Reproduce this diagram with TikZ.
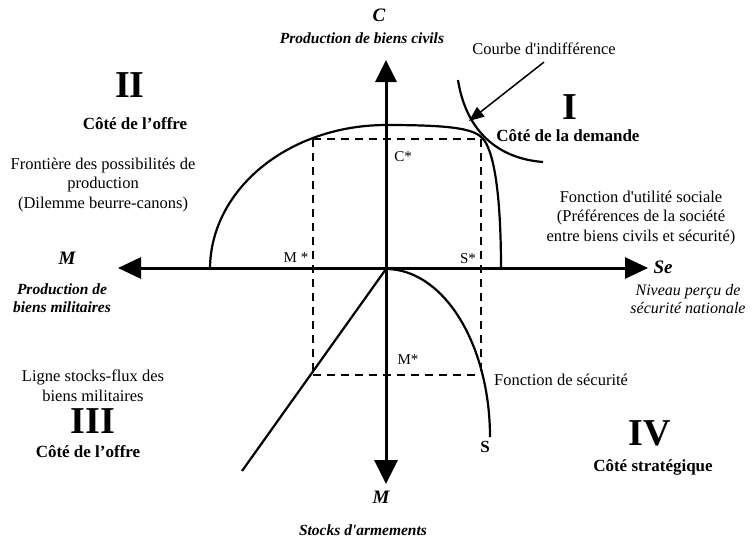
\documentclass[tikz,border=0pt]{standalone}
\usepackage{fontspec}
\setmainfont{Liberation Serif}
\usetikzlibrary{arrows.meta}
\tikzset{
  axisline/.style={line width=3pt,{Triangle[length=23pt,width=21pt]}-{Triangle[length=23pt,width=21pt]}},
  vaxis/.style={line width=3pt,{Triangle[length=22pt,width=21pt]}-{Triangle[length=24pt,width=23pt]}},
  curveline/.style={line width=2.2pt},
  dashline/.style={line width=1.6pt,dash pattern=on 8pt off 6pt},
  reg/.style={font=\fontsize{16.5}{19.5}\selectfont,align=center,inner sep=0pt},
  bld/.style={font=\fontsize{17}{20}\selectfont\bfseries,align=center,inner sep=0pt},
  itl/.style={font=\fontsize{15.5}{18.5}\selectfont\bfseries\itshape,align=center,inner sep=0pt},
  itm/.style={font=\fontsize{16}{18.5}\selectfont\itshape,align=center,inner sep=0pt},
  axlab/.style={font=\fontsize{19}{22}\selectfont\bfseries\itshape,inner sep=0pt},
  roman/.style={font=\fontsize{38}{40}\selectfont\bfseries,inner sep=0pt},
  star/.style={font=\fontsize{15}{17}\selectfont,inner sep=0pt}
}
\begin{document}
\begin{tikzpicture}[x=1pt,y=-1pt]
\useasboundingbox (0,0) rectangle (752,542);
\fill[white] (0,0) rectangle (752,542);
% key points
\coordinate (O) at (386,269);
\coordinate (Ctop) at (386,60);
\coordinate (Mbot) at (386,484);
\coordinate (Mleft) at (118,268);
\coordinate (Seright) at (648,268);
% axes
\draw[axisline] (Mleft) -- (Seright);
\draw[vaxis] (Ctop) -- (Mbot);
% production possibility frontier, quadrant II
\draw[curveline] plot[domain=180:90,samples=60] ({386+176*cos(\x)},{269-144*sin(\x)});
% social utility / frontier, quadrant I
\coordinate (Ptop) at (386,125);
\coordinate (Pcorner) at (484,140);
\coordinate (Pend) at (501,269);
\draw[curveline] (Ptop) .. controls (455,125) and (476,129) .. (Pcorner)
   .. controls (495,155) and (501,200) .. (Pend);
% indifference curve
\coordinate (I1) at (458,80);
\coordinate (I2) at (543,162);
\draw[curveline] (I1) .. controls (465,125) and (492,158) .. (I2);
% security function, quadrant IV
\draw[curveline] plot[domain=0:90,samples=60] ({386+104*sin(\x)},{437-168*cos(\x)});
% stock-flow line, quadrant III
\coordinate (Lend) at (242,471);
\draw[curveline] (O) -- (Lend);
% dashed rectangle
\coordinate (D1) at (313,139);
\coordinate (D2) at (481,375);
\draw[dashline] (D1) -- (D1 -| D2);
\draw[dashline] (D1) -- (D1 |- D2);
\draw[dashline] (D1 -| D2) -- (D2);
\draw[dashline] (D1 |- D2) -- (D2);
% labels
\node[axlab] (lC) at (379,15) {C};
\node[itl] (lPC) at (362,38) {Production de biens civils};
\node[reg] (lCourbe) at (544,49) {Courbe d\textquotesingle indifférence};
\coordinate (arrowtip) at (469,121);
\draw[line width=1.5pt,-{Triangle[length=15pt,width=12pt]}] (lCourbe.south) ++(0,7) coordinate (arrowstart) -- (arrowtip);
\node[roman] (lII) at (130,85) {II};
\node[bld] (lOffre1) at (135,124) {Côté de l'offre};
\node[reg] (lFront) at (103,185) {Frontière des possibilités de\\production\\(Dilemme beurre-canons)};
\node[axlab] (lMl) at (67,258) {M};
\node[itl] (lPM) at (62,298) {Production de\\biens militaires};
\node[star] (lMs) at (296,258) {M *};
\node[star] (lCs) at (403,157) {C*};
\node[star] (lSs) at (468,259) {S*};
\node[roman] (lI) at (570,107) {I};
\node[bld] (lDem) at (568,136) {Côté de la demande};
\node[reg] (lUtil) at (641,218) {Fonction d\textquotesingle utilité sociale\\(Préférences de la société\\entre biens civils et sécurité)};
\node[axlab] (lSe) at (663,267) {Se};
\node[itm] (lNiv) at (688,299) {Niveau perçu de\\sécurité nationale};
\node[reg] (lLigne) at (93,386) {Ligne stocks-flux des\\biens militaires};
\node[roman] (lIII) at (93,421) {III};
\node[bld] (lOffre2) at (88,452) {Côté de l'offre};
\node[star] (lMs2) at (408,360) {M*};
\node[reg,anchor=west] (lSec) at (494,380) {Fonction de sécurité};
\node[font=\fontsize{17}{19}\selectfont\bfseries,inner sep=0pt] (lS) at (485,447) {S};
\node[roman] (lIV) at (650,433) {IV};
\node[bld] (lStrat) at (653,467) {Côté stratégique};
\node[axlab] (lMb) at (381,497) {M};
\node[itl] (lStocks) at (363,530) {Stocks d\textquotesingle armements};
\end{tikzpicture}
\end{document}
